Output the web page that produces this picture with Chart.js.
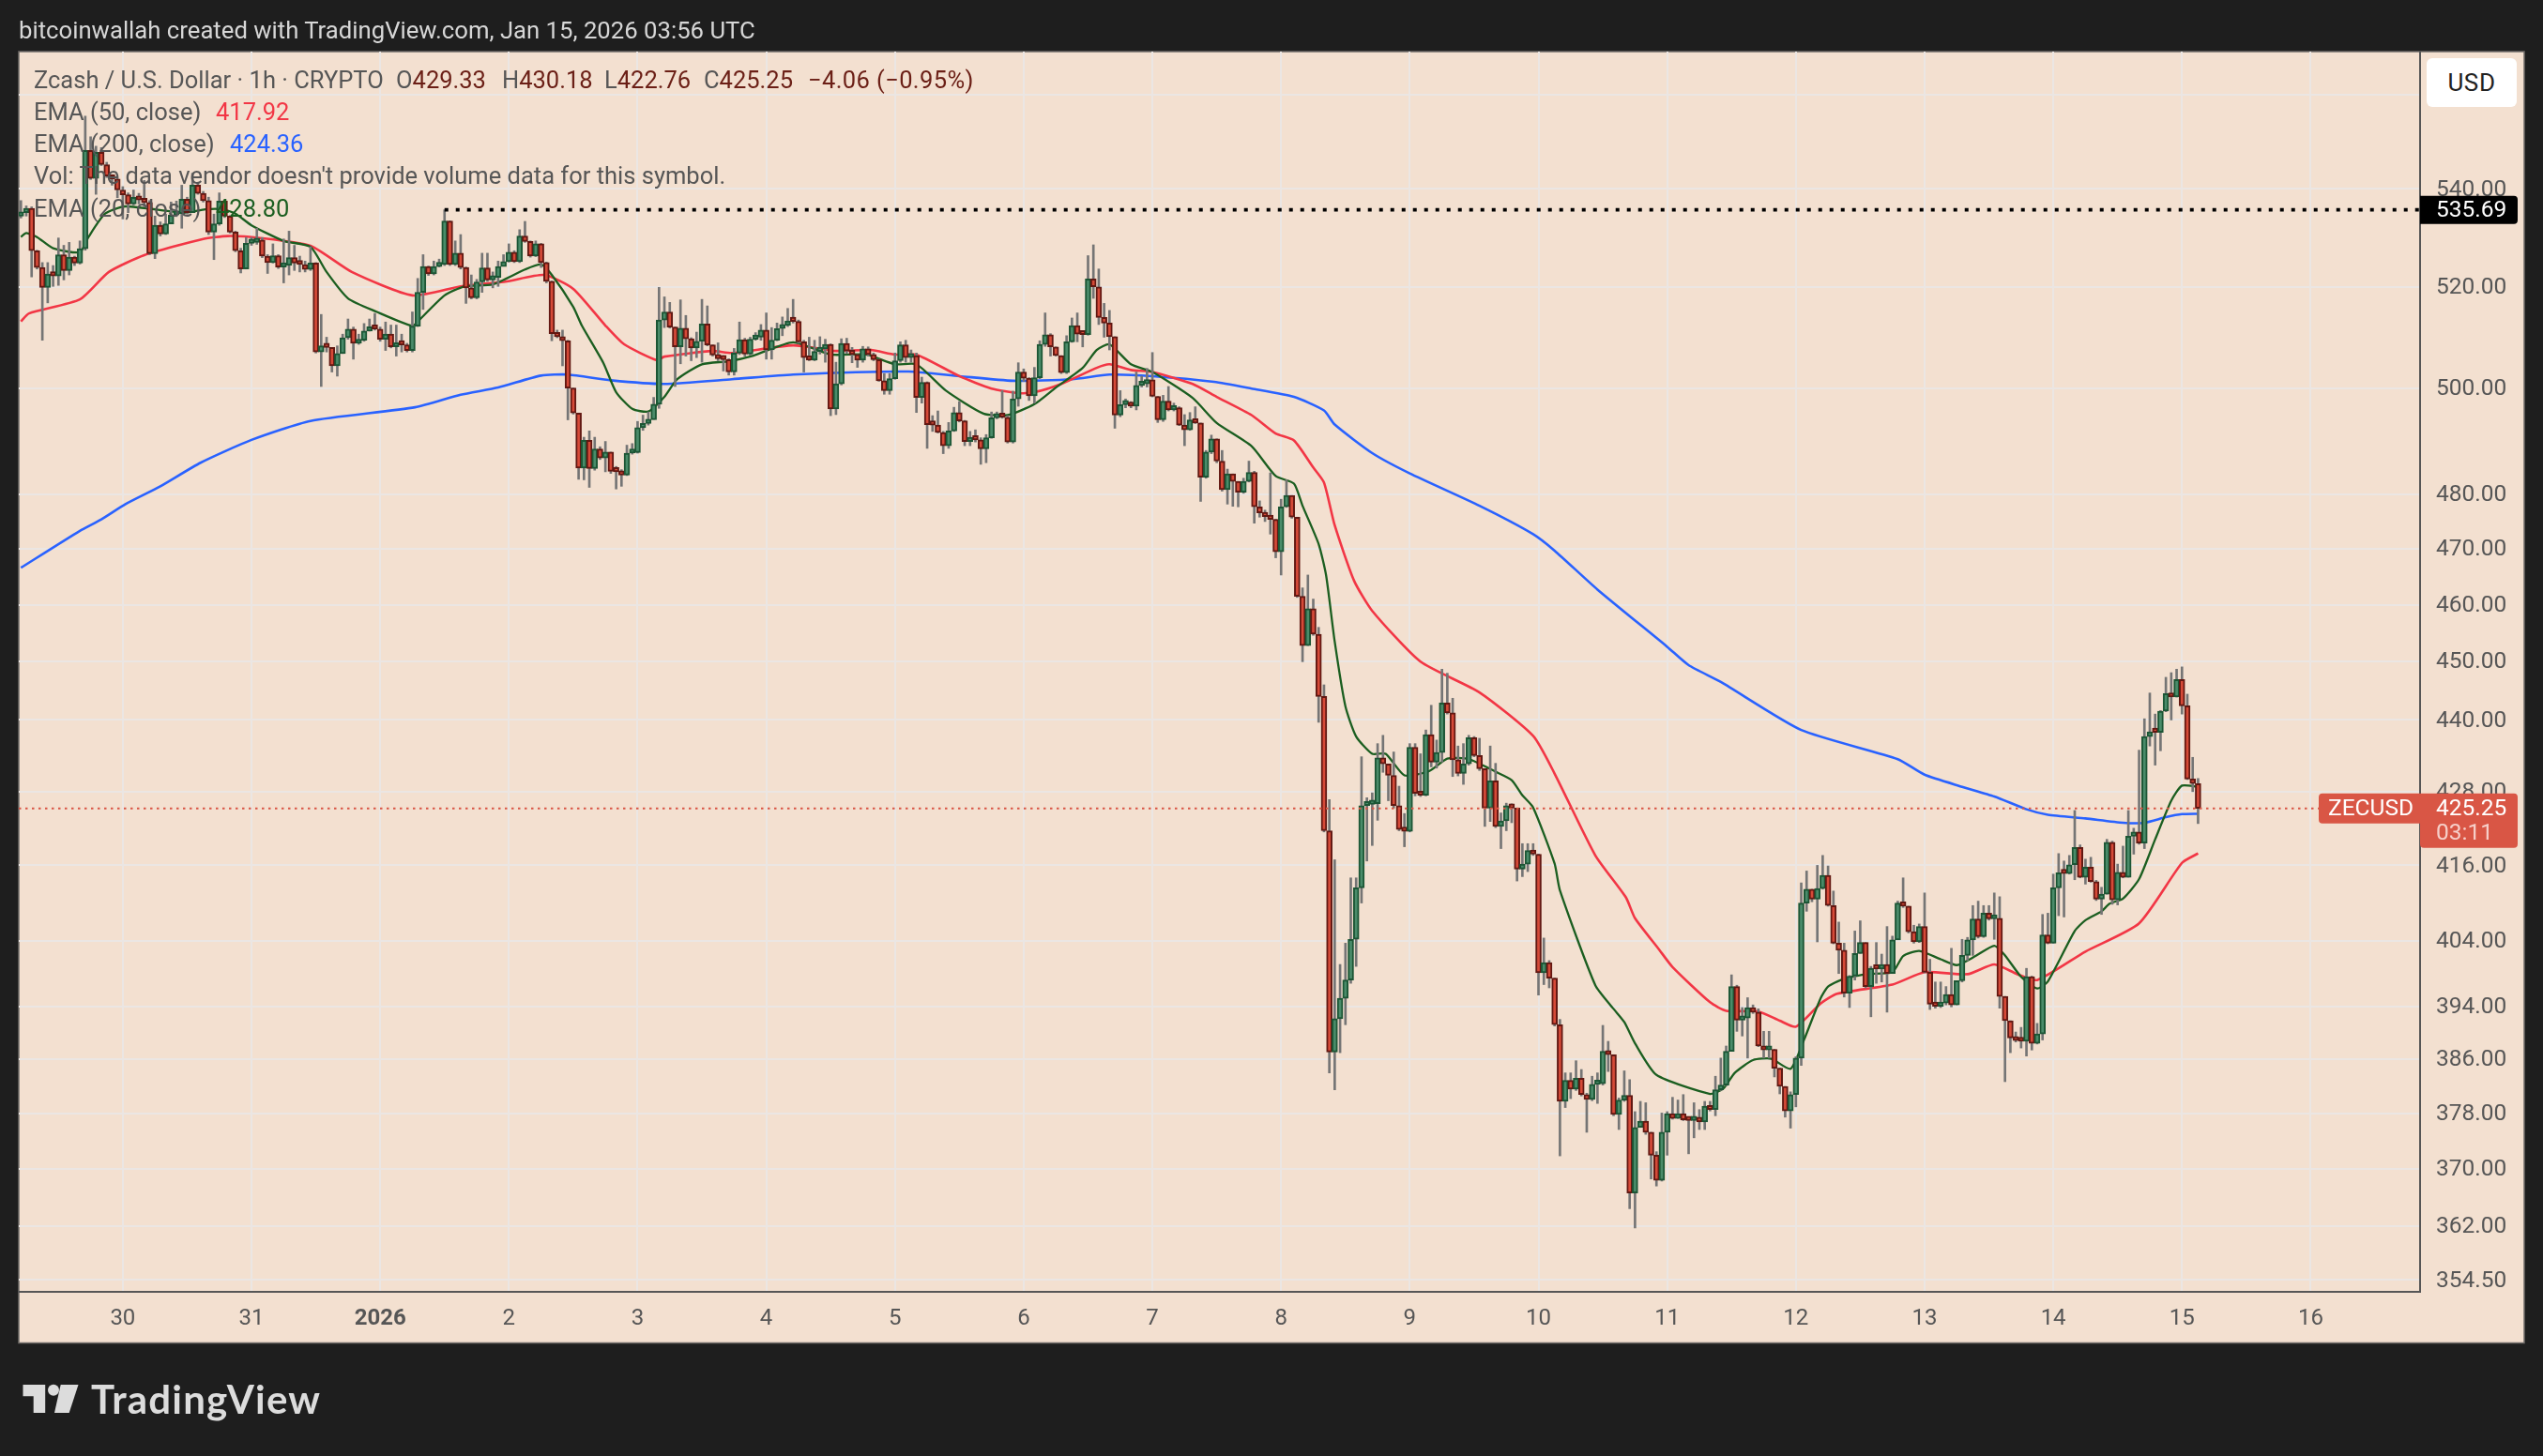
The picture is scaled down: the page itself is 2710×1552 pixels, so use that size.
<!DOCTYPE html>
<html>
<head>
<meta charset="utf-8">
<title>ZECUSD 1h</title>
<script src="https://cdn.jsdelivr.net/npm/chart.js@4/dist/chart.umd.min.js"></script>
<style>
  html, body { margin: 0; padding: 0; background: #1e1e1e; }
  #wrap { position: relative; width: 2710px; height: 1552px; overflow: hidden; font-family: Roboto, sans-serif; }
  canvas { position: absolute; left: 0; top: 0; }
  .t { position: absolute; white-space: nowrap; font-size: 25.5px; line-height: 30px; color: #565656; }
  .v { color: #6b1f16; }
  #usd { position: absolute; left: 2586px; top: 62px; width: 96px; height: 52px; background: #fff; border-radius: 6px;
         text-align: center; line-height: 52px; font-size: 26px; letter-spacing: 0.6px; color: #222; }
</style>
</head>
<body>
<div id="wrap">
  <canvas id="c" width="2710" height="1552"></canvas>
  <div class="t" style="left:20px;top:17px;color:#d6d6d6;font-size:25.7px">bitcoinwallah created with TradingView.com, Jan 15, 2026 03:56 UTC</div>

  <div class="t" style="left:36px;top:70px">Zcash / U.S. Dollar · 1h · CRYPTO</div>
  <div class="t" style="left:422px;top:70px">O<span class="v">429.33</span></div>
  <div class="t" style="left:535px;top:70px">H<span class="v">430.18</span></div>
  <div class="t" style="left:644px;top:70px">L<span class="v">422.76</span></div>
  <div class="t" style="left:750px;top:70px">C<span class="v">425.25</span></div>
  <div class="t v" style="left:861px;top:70px;letter-spacing:0.4px">−4.06 (−0.95%)</div>

  <div class="t" style="left:36px;top:104px">EMA (50, close)</div>
  <div class="t" style="left:230px;top:104px;color:#f23645">417.92</div>
  <div class="t" style="left:36px;top:138px">EMA (200, close)</div>
  <div class="t" style="left:245px;top:138px;color:#2962ff">424.36</div>
  <div class="t" style="left:36px;top:172px">Vol: The data vendor doesn't provide volume data for this symbol.</div>
  <div class="t" style="left:36px;top:207px">EMA (20, close)</div>
  <div class="t" style="left:230px;top:207px;color:#1b5e20">428.80</div>

  <div id="usd">USD</div>

  <svg style="position:absolute;left:0;top:1470px" width="100" height="42">
    <path fill="#dcdcdc" d="M24.5 6H48.2V36H35.7V18.3H24.5Z"/>
    <circle fill="#dcdcdc" cx="57" cy="11.7" r="6"/>
    <path fill="#dcdcdc" d="M64.7 6H83.5L73.7 36H58Z"/>
  </svg>
  <div class="t" style="left:97px;top:1468px;line-height:46px;font-size:42px;font-weight:700;letter-spacing:1.2px;color:#dcdcdc;font-family:Lato,sans-serif">TradingView</div>
</div>

<script>
// hourly candles, slot 0 is Dec 29 05:00 UTC, slot 406 is Jan 15 03:00 UTC
const opens = [
534.4,535.1,536.0,527.3,523.9,519.9,522.6,522.2,526.5,523.3,526.0,524.8,
527.7,548.1,542.2,547.7,545.1,542.7,542.1,539.8,538.8,536.9,538.3,537.7,
537.2,526.7,532.5,530.7,532.8,534.6,534.9,537.9,535.1,540.8,539.1,537.6,
531.1,532.8,537.5,534.4,531.1,527.3,523.6,528.8,529.0,529.5,526.2,524.9,
526.3,524.0,524.3,525.9,524.8,524.5,523.5,524.8,507.1,508.3,508.0,504.4,
506.8,509.9,511.6,508.8,509.4,511.2,511.7,511.6,509.6,510.6,508.1,508.8,
508.5,507.4,512.2,518.9,524.1,522.6,524.1,524.5,533.4,524.5,526.8,523.9,
519.8,517.8,521.0,523.8,521.4,521.9,524.1,525.1,527.0,525.1,530.3,529.2,
526.2,528.7,524.9,521.1,510.7,510.1,509.3,500.1,495.3,484.9,490.1,484.8,
488.5,486.8,487.9,484.3,484.2,483.6,487.7,487.8,492.5,493.3,494.0,497.0,
513.4,515.0,512.0,508.1,511.8,509.7,507.9,509.2,512.6,508.5,506.5,505.8,
505.6,503.2,506.9,509.5,506.7,509.6,510.0,511.4,507.5,509.4,511.7,512.3,
513.2,513.1,509.1,506.0,505.5,507.2,507.7,508.6,496.1,500.9,508.8,507.3,
506.6,505.5,507.7,506.6,505.6,501.5,499.6,501.9,505.4,508.5,506.0,506.4,
498.3,501.2,493.1,493.0,491.6,489.1,491.9,495.4,493.8,489.9,490.6,490.2,
488.5,490.6,494.4,494.6,494.5,489.8,498.0,503.2,502.0,498.6,502.1,508.6,
510.5,508.1,506.4,503.1,509.1,512.3,510.6,510.5,521.6,520.0,513.9,512.8,
510.1,494.9,496.9,497.3,496.6,500.6,500.9,501.7,498.5,494.0,497.6,495.9,
496.3,493.0,492.1,494.0,493.4,483.2,487.9,490.4,486.2,480.9,483.8,482.4,
480.4,482.4,484.1,477.7,476.6,475.9,475.4,469.5,477.7,479.8,475.8,461.5,
452.8,459.3,454.8,444.0,421.6,387.1,392.1,395.2,398.0,404.3,412.4,425.7,
425.9,426.0,433.6,432.6,430.7,425.7,421.8,421.5,435.4,427.7,427.4,437.5,
432.9,434.5,442.9,441.2,433.3,431.0,432.6,437.0,434.0,431.8,425.3,429.8,
422.3,423.2,425.7,425.3,415.4,416.2,418.4,417.8,399.1,400.7,398.3,391.2,
379.8,382.9,381.6,383.2,380.8,380.1,382.3,382.4,387.2,386.7,377.9,380.0,
380.7,366.6,376.0,376.9,375.3,372.0,368.4,375.3,378.0,377.3,378.0,377.1,
377.0,377.5,376.8,379.1,378.6,381.5,382.2,387.2,397.0,391.9,392.2,393.8,
393.1,388.0,387.4,387.5,384.7,382.0,378.4,380.8,386.2,410.0,412.2,410.6,
412.3,414.4,409.6,403.7,402.6,396.0,398.6,402.1,403.8,397.0,399.8,399.7,
400.4,399.0,404.2,410.0,409.5,405.5,403.9,406.3,399.2,394.3,394.0,394.5,
395.8,394.2,397.9,401.8,404.2,407.5,404.7,408.4,407.5,407.6,395.5,391.8,
389.2,388.8,388.7,398.5,388.4,389.8,405.0,403.7,412.4,414.8,414.7,416.1,
418.9,414.1,415.7,413.4,410.6,411.4,419.7,410.5,414.9,414.1,420.7,421.4,
419.6,437.2,438.0,437.9,441.5,444.5,443.9,446.9,442.4,430.1,429.33
];
const highs = [
537.6,536.5,536.3,527.4,524.9,524.9,524.3,529.9,528.4,529.0,526.2,529.3,
555.4,551.0,549.0,548.7,545.6,543.0,542.2,540.5,539.2,539.8,539.1,541.8,
537.6,534.4,533.2,534.8,537.3,537.5,540.8,538.3,543.3,541.4,539.5,538.3,
534.8,539.2,537.6,534.5,531.3,527.8,530.0,530.0,531.9,530.0,526.5,528.7,
526.5,529.7,531.3,528.4,526.2,525.2,528.1,524.9,514.5,510.0,508.0,508.3,
510.6,513.6,512.0,510.6,512.7,513.6,514.7,512.0,513.0,512.4,512.4,510.6,
508.8,515.0,521.7,526.5,524.2,525.2,525.6,535.69,533.4,529.3,530.6,524.0,
522.4,521.5,526.8,526.8,523.0,525.2,526.5,528.7,527.3,531.6,533.3,529.3,
529.3,528.8,525.0,521.2,511.4,511.4,509.4,500.1,495.3,490.7,491.9,490.7,
488.9,489.9,487.9,485.2,484.6,489.2,489.5,493.7,494.9,495.5,498.3,519.9,
518.0,516.9,512.0,517.4,514.3,509.9,511.0,517.5,516.2,508.5,508.9,506.4,
505.8,507.8,513.0,509.8,510.0,510.9,512.5,514.8,511.9,512.8,514.0,515.7,
517.5,513.4,509.4,510.0,509.4,510.1,509.6,508.7,505.1,509.7,509.8,508.0,
506.6,508.2,508.1,506.9,505.7,502.9,502.9,506.9,509.1,509.4,507.5,506.9,
502.2,501.3,494.8,495.7,491.8,493.5,496.4,497.5,493.9,491.8,492.1,490.6,
491.2,495.5,495.5,499.6,494.8,499.5,505.0,503.8,502.1,504.1,509.3,514.8,
510.7,508.1,506.4,510.3,513.8,514.8,511.2,526.3,528.5,523.6,516.7,515.3,
510.1,499.6,498.0,497.5,503.2,502.4,503.9,507.0,498.5,498.7,500.4,497.2,
496.5,495.0,495.4,496.5,493.4,488.2,491.1,490.4,488.2,484.7,483.8,482.4,
483.0,486.2,484.3,478.8,477.1,484.0,475.4,479.1,482.7,479.8,475.8,463.0,
465.3,461.0,456.0,446.0,426.7,416.9,400.4,403.7,414.0,414.0,433.8,427.0,
427.8,436.0,437.4,432.6,434.6,428.9,424.4,436.0,436.0,434.3,438.3,442.5,
436.6,448.7,448.0,443.7,435.6,436.0,437.4,437.2,436.9,431.8,435.6,432.7,
424.5,426.1,426.0,425.3,419.5,419.5,419.5,417.8,404.5,401.0,398.3,392.0,
384.0,384.0,385.8,384.5,381.0,383.5,384.0,391.1,388.7,386.7,380.3,384.3,
383.0,378.3,379.8,379.6,375.3,372.5,378.1,378.3,380.4,380.0,380.8,377.2,
379.6,378.6,379.8,379.8,383.5,386.2,388.0,398.8,397.2,393.8,395.3,394.2,
393.6,390.2,390.2,387.5,384.7,382.0,381.2,386.4,413.2,415.1,412.2,416.0,
417.6,415.9,411.9,407.0,403.7,398.7,405.6,407.2,403.8,400.1,403.8,402.0,
406.3,404.8,410.3,414.0,409.5,406.5,406.7,411.6,401.2,397.7,397.7,397.0,
402.9,397.9,404.3,404.6,409.6,410.3,409.6,409.6,411.6,411.0,395.5,391.8,
390.1,390.8,399.8,398.6,391.4,408.2,408.4,414.6,417.9,416.7,417.6,424.9,
419.3,417.0,417.3,413.6,412.5,420.2,419.9,416.2,419.1,424.9,422.0,434.9,
440.2,444.6,441.0,441.6,447.3,448.1,448.7,449.1,444.4,433.7,430.18
];
const lows = [
534.0,534.4,522.0,523.6,509.4,516.8,520.1,520.3,521.4,522.4,524.3,524.6,
527.4,542.0,538.9,544.9,542.4,540.8,538.2,533.8,535.1,536.7,536.9,536.3,
526.5,525.7,530.3,530.6,532.8,534.3,531.9,534.8,535.1,538.9,537.3,530.6,
525.5,532.5,534.1,530.9,527.1,522.8,523.6,528.4,528.6,525.9,522.7,524.8,
523.7,520.8,522.4,523.3,523.0,523.0,523.3,506.9,500.4,507.1,503.2,502.4,
506.8,509.6,505.7,508.6,509.2,511.2,511.4,509.2,507.4,507.9,506.3,507.1,
507.1,507.1,512.1,515.5,522.3,522.4,524.0,524.3,524.3,524.3,523.6,516.7,
517.6,517.6,518.9,521.1,519.8,520.1,524.2,525.0,524.9,524.9,529.0,526.0,
526.1,523.9,520.8,509.3,509.9,504.4,494.0,495.1,482.8,482.7,481.3,484.5,
486.5,484.2,483.9,481.0,481.5,483.5,487.5,487.7,492.0,493.0,494.1,496.2,
511.9,511.8,500.4,504.8,506.3,505.4,506.0,505.1,508.3,506.3,505.4,503.4,
502.6,502.6,506.6,506.3,506.5,509.4,509.4,505.7,505.7,509.3,510.3,512.1,
512.8,508.8,503.2,505.4,505.4,506.7,505.1,494.8,495.0,500.7,506.8,505.0,
504.1,505.1,506.3,505.4,501.4,498.9,498.9,501.8,505.1,505.1,505.1,495.4,
497.2,488.6,491.8,491.5,487.6,488.6,491.8,493.6,489.1,489.1,489.8,485.6,
485.9,490.5,494.2,494.3,489.6,489.6,496.6,501.4,497.7,497.2,501.9,508.2,
506.3,506.3,502.9,502.9,509.0,509.1,508.1,510.4,517.7,512.5,510.0,507.5,
492.4,494.6,496.3,496.3,495.9,500.3,500.3,498.4,493.5,493.7,495.7,495.7,
492.9,489.1,492.0,493.3,478.7,483.0,487.6,485.9,480.6,478.2,477.8,477.7,
480.2,482.3,474.7,475.8,475.0,472.7,468.4,465.3,477.6,475.6,461.3,450.0,
452.8,454.6,439.6,421.4,384.0,381.5,387.0,391.2,397.5,400.1,410.0,416.7,
419.2,423.3,431.2,426.5,425.3,421.6,419.0,421.4,427.3,427.2,427.3,432.1,
431.9,432.9,441.0,430.5,430.6,429.2,432.4,433.8,431.5,422.3,423.1,422.1,
418.7,421.6,422.9,413.5,414.2,415.0,417.6,395.7,397.3,396.8,391.0,371.9,
378.9,380.2,381.4,380.6,375.3,379.9,379.5,382.2,384.2,377.7,375.7,379.8,
364.4,361.7,376.0,375.0,368.6,367.6,368.3,372.0,377.2,377.3,377.0,372.2,
374.5,375.7,375.7,378.4,377.7,381.4,382.1,387.2,390.2,389.5,386.2,392.9,
387.9,386.2,386.2,383.4,380.9,377.5,375.9,379.0,385.1,408.7,410.2,403.9,
412.2,409.5,403.6,399.0,395.4,393.8,398.0,402.1,396.8,392.4,397.5,397.7,
393.1,399.0,404.4,409.3,405.3,403.7,403.8,399.1,393.5,393.7,393.8,394.2,
393.9,394.2,397.7,401.0,401.8,404.5,404.6,407.3,404.3,393.7,382.7,387.0,
388.6,387.7,386.5,387.4,388.3,388.9,403.6,403.7,408.0,407.8,414.6,413.7,
414.0,413.0,413.3,410.4,408.2,411.4,409.8,409.7,414.0,414.1,417.8,419.4,
418.7,435.6,432.4,434.8,441.4,440.0,443.9,441.0,430.0,428.0,422.76
];
const closes = [
535.1,536.0,527.3,523.9,519.9,522.6,522.2,526.5,523.3,526.0,524.8,527.7,
548.1,542.2,547.7,545.1,542.7,542.1,539.8,538.8,536.9,538.3,537.7,537.2,
526.7,532.5,530.7,532.8,534.6,534.9,537.9,535.1,540.8,539.1,537.6,531.1,
532.8,537.5,534.4,531.1,527.3,523.6,528.8,529.0,529.5,526.2,524.9,526.3,
524.0,524.3,525.9,524.8,524.5,523.5,524.8,507.1,508.3,508.0,504.4,506.8,
509.9,511.6,508.8,509.4,511.2,511.7,511.6,509.6,510.6,508.1,508.8,508.5,
507.4,512.2,518.9,524.1,522.6,524.1,524.5,533.4,524.5,526.8,523.9,519.8,
517.8,521.0,523.8,521.4,521.9,524.1,525.1,527.0,525.1,530.3,529.2,526.2,
528.7,524.9,521.1,510.7,510.1,509.3,500.1,495.3,484.9,490.1,484.8,488.5,
486.8,487.9,484.3,484.2,483.6,487.7,487.8,492.5,493.3,494.0,497.0,513.4,
515.0,512.0,508.1,511.8,509.7,507.9,509.2,512.6,508.5,506.5,505.8,505.6,
503.2,506.9,509.5,506.7,509.6,510.0,511.4,507.5,509.4,511.7,512.3,513.2,
513.1,509.1,506.0,505.5,507.2,507.7,508.6,496.1,500.9,508.8,507.3,506.6,
505.5,507.7,506.6,505.6,501.5,499.6,501.9,505.4,508.5,506.0,506.4,498.3,
501.2,493.1,493.0,491.6,489.1,491.9,495.4,493.8,489.9,490.6,490.2,488.5,
490.6,494.4,494.6,494.5,489.8,498.0,503.2,502.0,498.6,502.1,508.6,510.5,
508.1,506.4,503.1,509.1,512.3,510.6,510.5,521.6,520.0,513.9,512.8,510.1,
494.9,496.9,497.3,496.6,500.6,500.9,501.7,498.5,494.0,497.6,495.9,496.3,
493.0,492.1,494.0,493.4,483.2,487.9,490.4,486.2,480.9,483.8,482.4,480.4,
482.4,484.1,477.7,476.6,475.9,475.4,469.5,477.7,479.8,475.8,461.5,452.8,
459.3,454.8,444.0,421.6,387.1,392.1,395.2,398.0,404.3,412.4,425.7,425.9,
426.0,433.6,432.6,430.7,425.7,421.8,421.5,435.4,427.7,427.4,437.5,432.9,
434.5,442.9,441.2,433.3,431.0,432.6,437.0,434.0,431.8,425.3,429.8,422.3,
423.2,425.7,425.3,415.4,416.2,418.4,417.8,399.1,400.7,398.3,391.2,379.8,
382.9,381.6,383.2,380.8,380.1,382.3,382.4,387.2,386.7,377.9,380.0,380.7,
366.6,376.0,376.9,375.3,372.0,368.4,375.3,378.0,377.3,378.0,377.1,377.0,
377.5,376.8,379.1,378.6,381.5,382.2,387.2,397.0,391.9,392.2,393.8,393.1,
388.0,387.4,387.5,384.7,382.0,378.4,380.8,386.2,410.0,412.2,410.6,412.3,
414.4,409.6,403.7,402.6,396.0,398.6,402.1,403.8,397.0,399.8,399.7,400.4,
399.0,404.2,410.0,409.5,405.5,403.9,406.3,399.2,394.3,394.0,394.5,395.8,
394.2,397.9,401.8,404.2,407.5,404.7,408.4,407.5,407.6,395.5,391.8,389.2,
388.8,388.7,398.5,388.4,389.8,405.0,403.7,412.4,414.8,414.7,416.1,418.9,
414.1,415.7,413.4,410.6,411.4,419.7,410.5,414.9,414.1,420.7,421.4,419.6,
437.2,438.0,437.9,441.5,444.5,443.9,446.9,442.4,430.1,429.33,425.25
];

// moving averages, at the slots where they bend
const ema200Slots = [0,11,15,19.5,26,33.5,43,54,73.5,82,89,97,102,110,120,132.6,144,165.5,175,185,196,203,211,222.5,229.5,237.4,243,245,252,259,272,282,286,294,307,311,317,332,350,355,362,368,374,378,385,392,396,400,403,406];
const ema200 = [466.6,473.3,475.4,478.2,481.5,485.9,490.2,493.8,496.4,498.8,500.2,502.5,502.7,501.6,500.9,501.8,502.7,503.3,502.4,501.5,501.8,502.7,502.4,501.3,500,498.4,495.8,493.1,487.7,483.9,477.9,472.7,469.7,462.7,452.6,449.4,446.5,438.3,433.4,430.8,428.8,427.2,425.1,424.2,423.6,422.9,422.9,423.8,424.3,424.36];

const ema50Slots = [0,1.5,11,16.4,23,34,38.6,44.6,54,61.7,73,82,90.6,97.6,103,109,112.5,118.6,120,129,132.6,144,152,158.5,163,167,175,181,186,189,194,200.6,203,207,211,218.5,223,229.5,234,237.4,241,243,245,248.6,252,261,272,282,286,293.6,299.3,301,305.5,308,315,318,324,328,331,335.6,338.7,349,355,363,368,372.3,376,385,395,403,406];
const ema50 = [513.1,514.7,517.5,523,526.4,529.7,530.3,529.9,528.3,523,518.3,520.1,521.1,522.4,519.6,512.3,508.6,505.5,506.2,507.3,506.9,508.4,507.3,507.5,506.6,506.6,502.4,500,499.1,499.3,500.9,504,504.7,503.6,503.2,500.9,498.4,494.9,491.4,490.1,485,482.2,474.3,464.3,458.9,450,444.7,437.3,431,417.6,410.9,407.6,402.7,400,394.6,393.3,393.2,391.8,390.9,394.4,395.9,397.3,399.2,398.9,400.4,398.9,398,402.4,406.8,416.4,417.92];

const ema20Slots = [0,1,3,6,11,12.6,15.7,19.5,30.4,34.4,37.6,40,43,49,54,57,61,66.4,73,74,79,82.7,88,94,97,99,103,104.6,108.6,111,114,117,120,122.4,127,132,136.6,144,151,157.6,163,167,172.5,179.5,184,189,193,198,200.6,203,207,211,218.5,223,229.5,234,237.4,239,242,243.4,245,247,249,252,254.5,258,262.6,266,270,275,278,280,282,286,287,293.6,297,299,301,305,315,317.5,319.6,323,326.4,330,332.5,335.6,337,339.4,344,349,351,354,358,361,364.5,368,370,373,376,378,383,385,388,389.5,392,395,398,401,403,406];
const ema20 = [530.1,530.9,530.1,527.8,527,530.1,534.9,536.4,535.1,535.8,535.8,534.9,532.5,529.3,528.1,523,517.7,515,512.2,513.1,518.3,520.1,520.5,523.5,524.5,522.4,516,512.3,505,499.3,496.1,495.6,498.4,501.8,504.7,505.3,506.4,509,506.6,506.6,504.7,504.7,499.6,495.2,494.9,497,500.2,504,507.5,508.6,504.7,503.2,498.2,493.4,489,483.4,482,477.9,470.9,465.2,453.5,442.3,437.2,434.3,434.3,430.7,431.4,433.5,433.4,431.3,429.9,427.4,425.4,416.3,412,397.2,393.6,391.6,388.4,383.7,380.9,381.7,384,385.9,386.1,384.6,388.9,395.2,397,398,398.9,399.2,401.7,402.5,401.2,400.3,401.7,403.3,401.8,398.5,396.7,397.8,405.6,407.3,408.7,409.9,410.7,413.8,420.2,426.5,429,428.8];

// axis ticks
const priceTicks = [560,540,520,500,480,470,460,450,440,428,416,404,394,386,378,370,362,354.5];
const dayTickSlots = [19,43,67,91,115,139,163,187,211,235,259,283,307,331,355,379,403,427];
const dayTickLabels = ['30','31','2026','2','3','4','5','6','7','8','9','10','11','12','13','14','15','16'];

const lastPrice = 425.25;
const highPrice = 535.69;
const highSlot = 79;
const countdown = '03:11';

const FONT = 'Roboto, sans-serif';
const slots = closes.map((_, i) => i);

const pairUp = (xs, ys) => xs.map((x, i) => ({ x: x, y: ys[i] }));
const isUp = (i) => closes[i] >= opens[i];

// page frame and peach panel, drawn under everything
const panelPlugin = {
    id: 'panel',
    beforeDraw(chart) {
        const ctx = chart.ctx;
        ctx.save();
        ctx.fillStyle = '#1e1e1e';
        ctx.fillRect(0, 0, chart.width, chart.height);
        ctx.fillStyle = '#f3e0d0';
        ctx.fillRect(20, 55, 2670, 1376.5);
        ctx.strokeStyle = '#6f6b68';
        ctx.lineWidth = 1.5;
        ctx.strokeRect(20, 55, 2670, 1376.5);
        ctx.restore();
    },
};

// the price tags that sit over the right axis
const tagsPlugin = {
    id: 'tags',
    afterDraw(chart) {
        const ctx = chart.ctx;
        const y = chart.scales.y;
        const lastY = y.getPixelForValue(lastPrice);
        const highY = y.getPixelForValue(highPrice);
        ctx.save();

        ctx.fillStyle = '#d95645';
        ctx.beginPath();
        ctx.roundRect(2471, lastY - 16, 108, 32, [4, 0, 0, 4]);
        ctx.fill();
        ctx.beginPath();
        ctx.roundRect(2579, lastY - 16, 104, 58, [0, 4, 4, 4]);
        ctx.fill();

        ctx.textBaseline = 'middle';
        ctx.textAlign = 'left';
        ctx.font = '24.5px ' + FONT;
        ctx.fillStyle = '#ffffff';
        ctx.fillText('ZECUSD', 2481, lastY + 1);
        ctx.fillText(lastPrice.toFixed(2), 2596, lastY + 1);
        ctx.fillStyle = '#f6cfc9';
        ctx.fillText(countdown, 2596, lastY + 27);

        ctx.fillStyle = '#000000';
        ctx.beginPath();
        ctx.roundRect(2579, highY - 15, 104, 30, [0, 4, 4, 0]);
        ctx.fill();
        ctx.fillStyle = '#ffffff';
        ctx.fillText(highPrice.toFixed(2), 2596, highY + 1);

        ctx.restore();
    },
};

new Chart(document.getElementById('c'), {
    data: {
        datasets: [
            {
                type: 'line', data: pairUp(ema200Slots, ema200), borderColor: '#2962ff',
                borderWidth: 2.6, pointRadius: 0, tension: 0.2, order: 6,
            },
            {
                type: 'line', data: pairUp(ema50Slots, ema50), borderColor: '#f23645',
                borderWidth: 2.6, pointRadius: 0, tension: 0.2, order: 5,
            },
            {
                type: 'line', data: pairUp(ema20Slots, ema20), borderColor: '#1b5e20',
                borderWidth: 2.3, pointRadius: 0, tension: 0.2, order: 4,
            },
            // wicks
            {
                type: 'bar', data: slots.map(i => ({ x: i, y: [lows[i], highs[i]] })),
                backgroundColor: '#757575', barThickness: 2, grouped: false, order: 3,
            },
            // bodies
            {
                type: 'bar', data: slots.map(i => ({ x: i, y: [opens[i], closes[i]] })),
                backgroundColor: slots.map(i => isUp(i) ? '#4a8c6a' : '#d64a38'),
                borderColor: slots.map(i => isUp(i) ? '#1c5635' : '#621812'),
                borderWidth: 2, borderSkipped: false, barThickness: 6, minBarLength: 4.5,
                grouped: false, order: 2,
            },
            // dotted level of the high
            {
                type: 'line', data: [{ x: highSlot, y: highPrice }, { x: 447.4, y: highPrice }],
                borderColor: '#000000', borderWidth: 3.6, borderDash: [4, 8], pointRadius: 0, order: 1,
            },
            // dotted last price line
            {
                type: 'line', data: [{ x: -0.4, y: lastPrice }, { x: 447.4, y: lastPrice }],
                borderColor: '#d95645', borderWidth: 2, borderDash: [2.5, 4.5], pointRadius: 0, order: 1,
            },
        ],
    },
    options: {
        responsive: false,
        animation: false,
        devicePixelRatio: 1,
        layout: { padding: { left: 20, right: 20, top: 55, bottom: 120.5 } },
        plugins: { legend: { display: false }, tooltip: { enabled: false } },
        scales: {
            x: {
                type: 'linear',
                offset: false,
                min: -0.4,
                max: 447.4,
                grid: { color: '#ebe6e3', lineWidth: 2, drawTicks: false, offset: false },
                border: { display: true, color: '#565656', width: 2 },
                afterBuildTicks: (scale) => { scale.ticks = dayTickSlots.map(v => ({ value: v })); },
                afterFit: (scale) => { scale.height = 54.5; },
                ticks: {
                    autoSkip: false,
                    maxRotation: 0,
                    padding: 15,
                    color: '#565656',
                    font: (ctx) => ({
                        family: FONT,
                        size: 24,
                        weight: dayTickLabels[ctx.index] === '2026' ? 'bold' : 'normal',
                    }),
                    callback: (value, index) => dayTickLabels[index],
                },
            },
            y: {
                type: 'logarithmic',
                position: 'right',
                min: 352.9,
                max: 569.4,
                grid: { color: '#ebe6e3', lineWidth: 2, drawTicks: false },
                border: { display: true, color: '#565656', width: 2 },
                afterBuildTicks: (scale) => { scale.ticks = priceTicks.map(v => ({ value: v })); },
                afterFit: (scale) => { scale.width = 111; },
                ticks: {
                    autoSkip: false,
                    padding: 17,
                    labelOffset: 1,
                    color: '#565656',
                    font: { family: FONT, size: 24.5 },
                    callback: (value) => value === 560 ? '' : value.toFixed(2),
                },
            },
        },
    },
    plugins: [panelPlugin, tagsPlugin],
});
</script>
</body>
</html>
